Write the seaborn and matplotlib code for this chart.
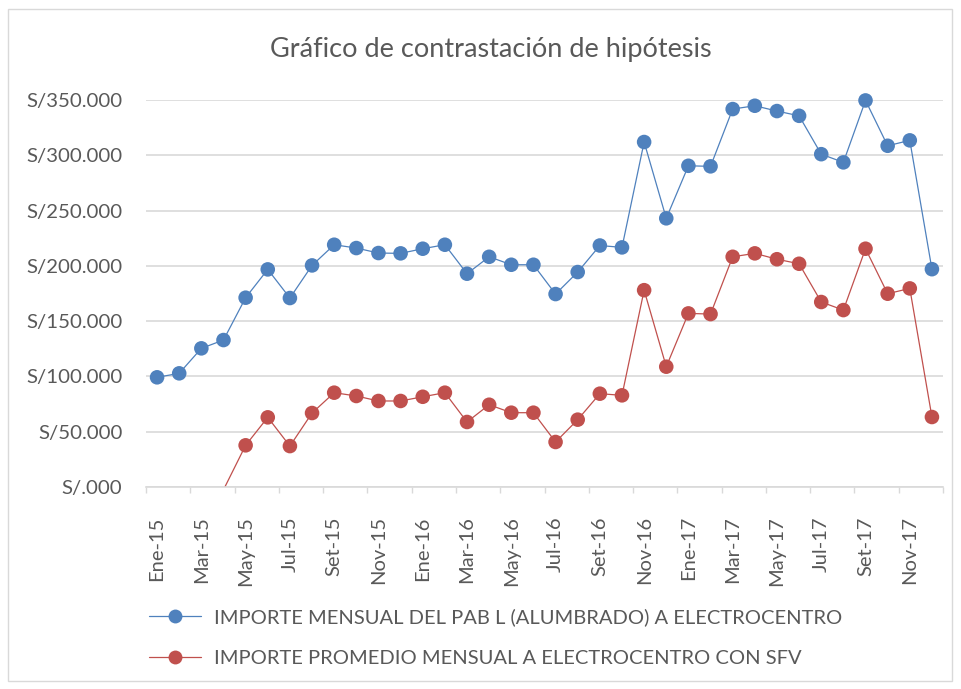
import numpy as np
import pandas as pd
import matplotlib
matplotlib.use("Agg")
import matplotlib.pyplot as plt
import seaborn as sns
from matplotlib.lines import Line2D
from matplotlib.patches import Rectangle
from matplotlib.ticker import FixedLocator, NullFormatter, FuncFormatter

# meses (formato del eje de Excel)
meses = ["Ene", "Feb", "Mar", "Abr", "May", "Jun", "Jul", "Ago", "Set", "Oct", "Nov", "Dic"]
anios = ["15", "16", "17"]
periodos = [f"{m}-{a}" for a in anios for m in meses]

serie_pab = "IMPORTE MENSUAL DEL PAB L (ALUMBRADO) A ELECTROCENTRO"
serie_sfv = "IMPORTE PROMEDIO MENSUAL A ELECTROCENTRO CON SFV"

importe_pab = [
    99200, 102800, 125400, 132900, 171200, 196800, 170900, 200400, 219100, 216100, 211600, 211300,
    215500, 219100, 192900, 208200, 201000, 201000, 174500, 194400, 218400, 216700, 312000, 243000,
    290500, 290000, 341800, 344800, 340000, 335700, 301000, 293600, 349600, 308600, 313500, 197000,
]
importe_sfv = [
    -35000, -31000, -8600, -2500, 37700, 63000, 37000, 66900, 85300, 82300, 77800, 77800,
    81600, 85300, 58800, 74400, 67200, 67200, 40700, 60900, 84400, 82900, 178000, 108800,
    157000, 156400, 208200, 211300, 206000, 201900, 167300, 160000, 215500, 174800, 179600, 63300,
]

y_ticks = [0, 50000, 100000, 150000, 200000, 250000, 300000, 350000]

df = pd.DataFrame({
    "pos": list(range(len(periodos))) * 2,
    "importe": importe_pab + importe_sfv,
    "serie": [serie_pab] * len(periodos) + [serie_sfv] * len(periodos),
})

sns.set_theme(style="white")
plt.rcParams["font.family"] = ["Lato", "DejaVu Sans"]

gris = "#595959"
colores = {serie_pab: "#4F81BD", serie_sfv: "#C0504D"}

fig = plt.figure(figsize=(9.61, 6.89), dpi=100)
ax = fig.add_axes([146 / 961, 1 - 487 / 689, (943 - 146) / 961, (487 - 100) / 689])

sns.lineplot(data=df, x="pos", y="importe", hue="serie", palette=colores,
             linewidth=0.9, legend=False, ax=ax)
# Excel no muestra los puntos fuera del rango del eje
visibles = df[df["importe"] >= 0]
sns.scatterplot(data=visibles, x="pos", y="importe", hue="serie", palette=colores,
                s=110, edgecolor="none", legend=False, clip_on=False, zorder=3, ax=ax)

ax.set_xlim(-0.5, len(periodos) - 0.5)
ax.set_ylim(0, 350000)
ax.set_xlabel("")
ax.set_ylabel("")

# eje Y
ax.set_yticks(y_ticks)
ax.yaxis.set_major_formatter(FuncFormatter(lambda v, _: f"S/{v / 1000:.0f}.000" if v else "S/.000"))
ax.tick_params(axis="y", length=0, pad=17, labelsize=14.7, labelcolor=gris)
ax.grid(True, axis="y", color="#D9D9D9", linewidth=1.2)

# eje X: marcas cada dos meses, etiquetas en el centro de la categoría
ax.xaxis.set_major_locator(FixedLocator(np.arange(-0.5, len(periodos), 2)))
ax.xaxis.set_major_formatter(NullFormatter())
ax.set_xticks(np.arange(0, len(periodos), 2), periodos[::2], minor=True)
ax.tick_params(axis="x", which="major", length=4, width=1, color="#D9D9D9", bottom=True)
ax.tick_params(axis="x", which="minor", length=0, pad=21, labelsize=14.5,
               labelcolor=gris, labelrotation=90)

for lado in ["top", "right", "left"]:
    ax.spines[lado].set_visible(False)
ax.spines["bottom"].set_color("#D9D9D9")
ax.spines["bottom"].set_linewidth(1.2)

fig.text(491 / 961, 1 - 49 / 689, "Gráfico de contrastación de hipótesis",
         ha="center", va="center", fontsize=19.5, color=gris)

handles = [Line2D([], [], color=colores[s], linewidth=0.9, marker="o", markersize=10,
                  markeredgewidth=0) for s in [serie_pab, serie_sfv]]
fig.legend(handles, [serie_pab, serie_sfv], loc="upper left",
           bbox_to_anchor=(131 / 961, 1 - 590 / 689), frameon=False, fontsize=14.5,
           labelcolor=gris, handlelength=2.6, handletextpad=0.6, labelspacing=1.2)

fig.patches.append(Rectangle((8 / 961, 8 / 689), 944 / 961, 672 / 689, fill=False,
                             edgecolor="#D9D9D9", linewidth=1, transform=fig.transFigure))

fig.savefig("out.png", dpi=100)
